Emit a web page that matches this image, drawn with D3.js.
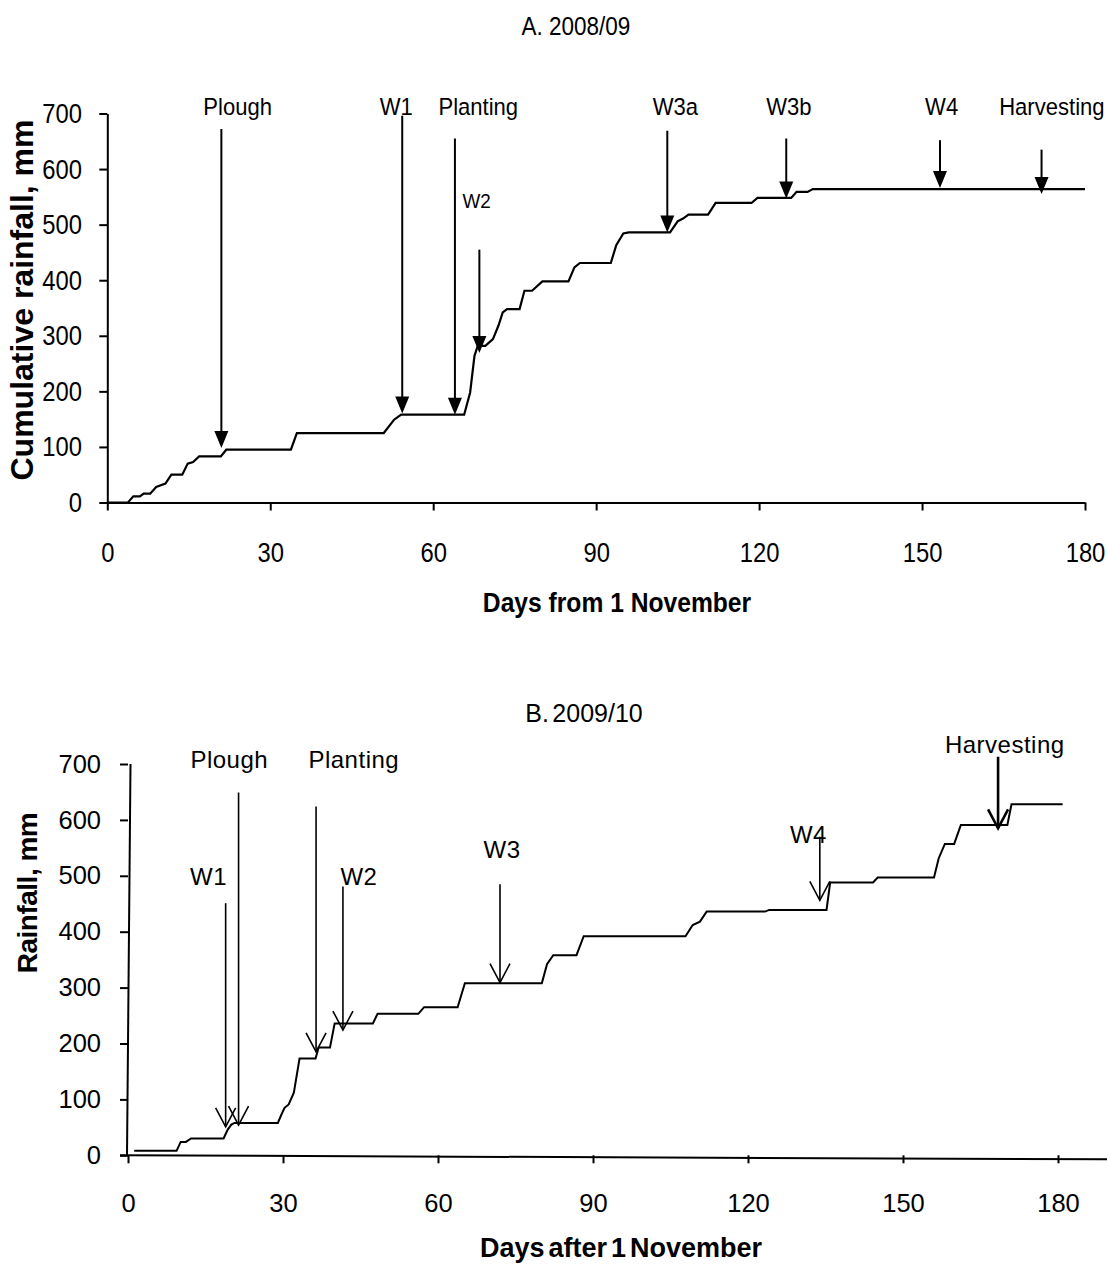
<!DOCTYPE html>
<meta charset="utf-8">
<head>
    <!-- Load d3.js -->
    <script src="https://d3js.org/d3.v7.min.js"></script>
    <style>
        body { margin: 0; background: #fff; }
        svg text { font-family: "Liberation Sans", Arial, sans-serif; fill: #000; }
    </style>
</head>
<body>
<script>

// ---- A. 2008/09 : cumulative rainfall ----
var daysA = [0, 3.8, 4.8, 6.0, 6.7, 7.9, 9.0, 10.7, 11.8, 13.8, 14.8, 15.8, 16.9, 20.9, 21.9,
             33.8, 34.9, 50.9, 52.8, 54.1, 65.7, 66.8, 67.6, 68.2, 69.6, 71, 72, 72.8, 73.6,
             75.9, 76.8, 78.2, 80.1, 84.9, 86, 87, 92.7, 93.7, 95, 96, 103.6, 105, 106, 107,
             110.6, 112, 118.6, 119.7, 125.9, 126.9, 128.9, 129.9, 180]
var rainA = [0, 0, 11, 11, 16, 16, 28, 34, 50, 50, 70, 73, 83, 83, 95,
             95, 125, 125, 149, 158, 158, 198, 264, 282, 282, 294, 318, 342, 348,
             348, 381, 381, 398, 398, 423, 431, 431, 463, 484, 486, 486, 506, 511, 518,
             518, 539, 539, 548, 548, 559, 559, 564, 564]

// field operations, arrows (days, mm) and label anchors (days, mm)
var eventsA = ["Plough", "W1", "Planting", "W2", "W3a", "W3b", "W4", "Harvesting"]
var eventDayA = [21, 54.3, 64, 68.5, 103.1, 125, 153.3, 172]
var arrowTopA = [672, 696, 655, 455, 669, 655, 652, 635]
var arrowTipA = [98, 160, 158, 269, 486, 547, 566, 555]
var labelDayA = [24, 53.2, 68.3, 68, 104.6, 125.5, 153.6, 173.9]
var labelValA = [697, 697, 697, 530, 697, 697, 697, 697]

// ---- B. 2009/10 ----
var daysB = [1.2, 9.4, 10.2, 11.2, 12.2, 18.5, 19.3, 20, 20.6, 29, 29.7, 30.3, 31.1, 32.1, 33.2,
             36.3, 36.9, 39.1, 40, 47.4, 48.3, 56.2, 57.3, 63.8, 65.2, 80.1, 81.1, 82.3, 86.8,
             88.2, 107.9, 109.3, 110.7, 112, 123.3, 124.1, 135.2, 135.9, 144.2, 145.1, 156,
             156.9, 158.1, 159.9, 161.2, 170.2, 171, 180.9]
var rainB = [8, 8, 24, 24, 30, 30, 46, 55, 58, 58, 73, 85, 91, 112, 173,
             173, 193, 193, 236, 236, 253, 253, 265, 265, 308, 308, 342, 358, 358,
             392, 392, 412, 418, 436, 436, 439, 439, 488, 488, 497, 497,
             531, 557, 557, 591, 591, 628, 628]

var eventsB = ["W1", "Plough", "Planting", "W2", "W3", "W4", "Harvesting"]
var eventDayB = [18.9, 21.4, 36.4, 41.6, 72, 133.9, 168.4]
var arrowTopB = [451, 649, 624, 481, 485, 570, 713]
var arrowTipB = [51, 54, 185, 224, 309, 456, 585]
var labelDayB = [15.6, 19.6, 43.7, 44.7, 72.4, 131.7, 169.7]
var labelValB = [484, 693, 693, 484, 532, 559, 720]

var xTicks = [0, 30, 60, 90, 120, 150, 180]
var yTicks = [0, 100, 200, 300, 400, 500, 600, 700]

var svg = d3.select("body")
            .append("svg")
            .attr("width", 1107)
            .attr("height", 1266)

svg.append("rect").attr("width", 1107).attr("height", 1266).attr("fill", "#fff")

// text helper: sx squeezes the glyphs horizontally like the original
function addText(x, y, str, size, sx, weight, anchor) {
    return svg.append("text")
        .attr("transform", "translate(" + x + "," + y + ") scale(" + sx + ",1)")
        .attr("text-anchor", anchor || "middle")
        .style("font-size", size + "px")
        .style("font-weight", weight || "normal")
        .text(str)
}

function drawPanel(p) {
    var x = d3.scaleLinear().domain([0, 180]).range([p.x0, p.x1])
    var y = d3.scaleLinear().domain([0, 700]).range([p.y0, p.y1])

    // x axis
    var gx = svg.append("g")
        .attr("transform", "translate(0," + p.y0 + ")")
        .call(d3.axisBottom(x).tickValues(xTicks).tickSize(8).tickSizeOuter(0).tickPadding(p.xPad))
    gx.selectAll(".tick text")
        .attr("transform", "scale(" + p.tickSx + ",1)")
        .style("font-size", p.tickSize + "px")
    if (p.xExtend) {
        // the lower panel's axis runs on past 180 to the page edge, dipping slightly
        gx.select(".domain").remove()
        gx.append("line").attr("x1", p.x0 - 8).attr("y1", 0).attr("x2", p.xExtend).attr("y2", 4)
          .attr("stroke", "#000").attr("stroke-width", 2)
    }

    // y axis
    var gy = svg.append("g")
        .attr("transform", "translate(" + p.x0 + ",0)")
        .call(d3.axisLeft(y).tickValues(yTicks).tickSize(8).tickSizeOuter(0).tickPadding(p.yPad))
    gy.selectAll(".tick text")
        .attr("transform", "scale(" + p.tickSx + ",1)")
        .attr("x", -(8 + p.yPad) / p.tickSx)
        .style("font-size", p.tickSize + "px")
    if (p.yLean) {
        gy.select(".domain")
          .attr("d", "M" + (-1) + "," + p.y0 + "L" + p.yLean + "," + p.y1)
    }

    svg.selectAll(".domain, .tick line").attr("stroke", "#000").attr("stroke-width", 2)

    // cumulative rainfall line
    var line = d3.line().x(function(d) { return x(d[0]) }).y(function(d) { return y(d[1]) })
    svg.append("path")
        .datum(d3.zip(p.days, p.rain))
        .attr("d", line)
        .attr("fill", "none")
        .attr("stroke", "#000")
        .attr("stroke-width", p.lineWidth)

    // arrows for the field operations
    p.events.forEach(function(name, i) {
        var ax = x(p.eventDay[i]), top = y(p.arrowTop[i]), tip = y(p.arrowTip[i])
        if (p.filled) {
            svg.append("line").attr("x1", ax).attr("x2", ax).attr("y1", top).attr("y2", tip - 10)
               .attr("stroke", "#000").attr("stroke-width", 2)
            svg.append("path")
               .attr("d", "M" + ax + "," + tip + "L" + (ax - 7) + "," + (tip - 17) + "L" + (ax + 7) + "," + (tip - 17) + "Z")
               .attr("fill", "#000")
        } else {
            var w = name == "Harvesting" ? 2.6 : 1.6
            svg.append("line").attr("x1", ax).attr("x2", ax).attr("y1", top).attr("y2", tip)
               .attr("stroke", "#000").attr("stroke-width", w)
            svg.append("path")
               .attr("d", "M" + (ax - 10) + "," + (tip - 19) + "L" + ax + "," + tip + "L" + (ax + 10) + "," + (tip - 19))
               .attr("fill", "none").attr("stroke", "#000").attr("stroke-width", w)
        }
        var size = (p.filled && name == "W2") ? 21 : p.labelSize
        addText(x(p.labelDay[i]), y(p.labelVal[i]), name, size, p.labelSx)
            .style("letter-spacing", p.labelSpacing + "px")
    })

    // titles
    addText(p.titleX, p.titleY, p.title, p.titleSize, p.titleSx).style("word-spacing", p.wordSpacing + "px")
    addText(p.xTitleX, p.xTitleY, p.xTitle, p.xTitleSize, p.xTitleSx, "bold").style("word-spacing", p.wordSpacing + "px")
    svg.append("text")
        .attr("transform", "translate(" + p.yTitleX + "," + p.yTitleY + ") rotate(-90)")
        .attr("text-anchor", "middle")
        .style("font-size", p.yTitleSize + "px")
        .style("font-weight", "bold")
        .style("letter-spacing", p.yTitleSpacing + "px")
        .text(p.yTitle)
}

drawPanel({
    days: daysA, rain: rainA,
    events: eventsA, eventDay: eventDayA, arrowTop: arrowTopA, arrowTip: arrowTipA,
    labelDay: labelDayA, labelVal: labelValA,
    x0: 107.3, x1: 1085, y0: 502.5, y1: 113.5,
    xPad: 31.5, yPad: 17.3, tickSize: 28, tickSx: 0.85,
    lineWidth: 2.2, filled: true, labelSize: 24.5, labelSx: 0.9, labelSpacing: 0,
    title: "A. 2008/09", titleX: 576, titleY: 35, titleSize: 25, titleSx: 0.9, wordSpacing: 0,
    xTitle: "Days from 1 November", xTitleX: 617, xTitleY: 612, xTitleSize: 28, xTitleSx: 0.88,
    yTitle: "Cumulative rainfall, mm", yTitleX: 33, yTitleY: 300, yTitleSize: 32, yTitleSpacing: 0
})

drawPanel({
    days: daysB, rain: rainB,
    events: eventsB, eventDay: eventDayB, arrowTop: arrowTopB, arrowTip: arrowTipB,
    labelDay: labelDayB, labelVal: labelValB,
    x0: 128, x1: 1058, y0: 1155.3, y1: 764, xExtend: 1107, yLean: 2.5,
    xPad: 30.5, yPad: 19, tickSize: 25.5, tickSx: 1,
    lineWidth: 2, filled: false, labelSize: 24, labelSx: 1, labelSpacing: 0.5,
    title: "B. 2009/10", titleX: 584, titleY: 722, titleSize: 25, titleSx: 1, wordSpacing: -3.5,
    xTitle: "Days after 1 November", xTitleX: 621, xTitleY: 1257, xTitleSize: 27, xTitleSx: 1,
    yTitle: "Rainfall, mm", yTitleX: 37, yTitleY: 893, yTitleSize: 28, yTitleSpacing: -0.5
})

</script>
</body>
